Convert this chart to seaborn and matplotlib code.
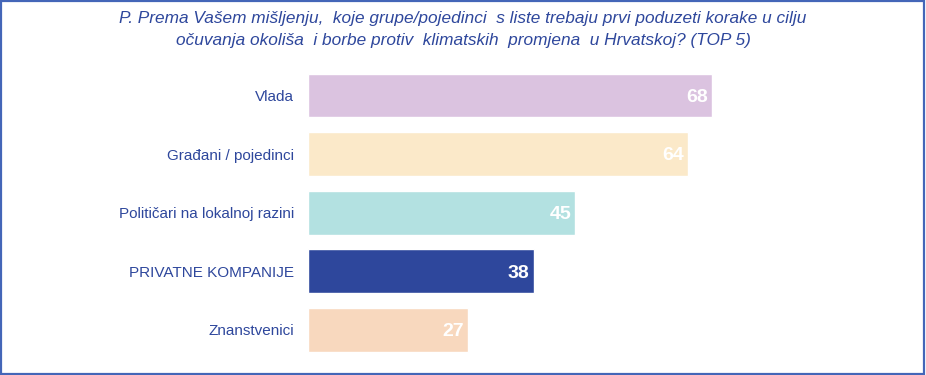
import pandas as pd
import seaborn as sns
import matplotlib.pyplot as plt
from matplotlib.patches import Rectangle

# Data
categories = ['Vlada', 'Građani / pojedinci', 'Političari na lokalnoj razini',
              'PRIVATNE KOMPANIJE', 'Znanstvenici']
values = [68, 64, 45, 38, 27]
colors = ['#DBC3E0', '#FBE9C9', '#B3E1E1', '#2E479C', '#F8D8BE']
title = ('P. Prema Vašem mišljenju,  koje grupe/pojedinci  s liste trebaju prvi poduzeti korake u cilju\n'
         'očuvanja okoliša  i borbe protiv  klimatskih  promjena  u Hrvatskoj? (TOP 5)')

text_blue = '#2E479C'

sns.set_theme(style='white')
plt.rcParams['font.family'] = ['Liberation Sans', 'DejaVu Sans']

df = pd.DataFrame({'category': categories, 'value': values})

fig = plt.figure(figsize=(9.26, 3.75), dpi=100)
ax = fig.add_axes([308 / 926, 0.0419, 594 / 926, 0.7816])

sns.barplot(data=df, x='value', y='category', hue='category', palette=colors,
            order=categories, hue_order=categories, width=0.75, legend=False,
            saturation=1, ax=ax)

ax.set_xlim(0, 100)
ax.set_ylim(4.5, -0.5)
ax.set_xlabel('')
ax.set_ylabel('')
ax.set_xticks([])
for s in ax.spines.values():
    s.set_visible(False)
ax.tick_params(axis='y', length=0, pad=10, labelsize=11, labelcolor=text_blue)

for i, v in enumerate(values):
    ax.text(v - 0.7, i + 0.03, str(v), ha='right', va='center', color='white',
            fontsize=14, fontweight='bold')

fig.text(0.5, 1 - 11 / 375, title, ha='center', va='top', color=text_blue,
         fontsize=12.4, style='italic', linespacing=1.55)

# frame around the figure
fig.patches.append(Rectangle((0.001, 0.002), 0.997, 0.995, transform=fig.transFigure,
                             fill=False, edgecolor='#4466B8', linewidth=1.6))

fig.savefig('out.png', dpi=100)
